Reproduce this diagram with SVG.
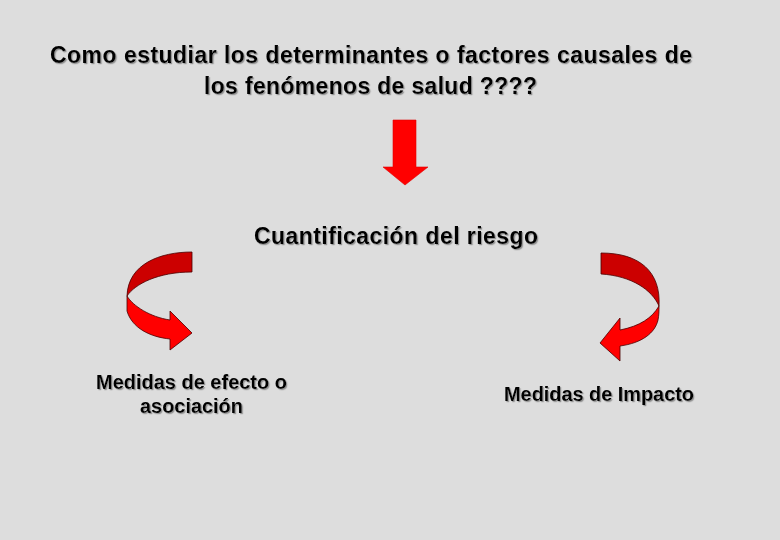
<svg xmlns="http://www.w3.org/2000/svg" width="780" height="540" viewBox="0 0 780 540">
<defs>
<filter id="sh" x="-5%" y="-20%" width="110%" height="140%">
<feDropShadow dx="1.2" dy="1.2" stdDeviation="0.4" flood-color="#8c8c8c" flood-opacity="0.9"/>
</filter>
<style>
.t{font-family:"Liberation Sans",Arial,sans-serif;font-weight:bold;fill:#000;}
.big{font-size:23px;}
.sm{font-size:20px;}
.dark{fill:#CC0000;stroke:#4a0000;stroke-width:0.8;}
.bright{fill:#FF0000;stroke:#4a0000;stroke-width:0.8;}
</style>
</defs>
<rect width="780" height="540" fill="#DDDDDD"/>
<g id="title" filter="url(#sh)">
<text class="t big" x="50" y="63" textLength="642" lengthAdjust="spacing">Como estudiar los determinantes o factores causales de</text>
<text class="t big" x="204" y="94" textLength="333" lengthAdjust="spacing">los fenómenos de salud ????</text>
</g>
<g id="down-arrow">
<path d="M393,120 L416,120 L416,167 L428,167 L405,185 L383,167 L393,167 Z" fill="#FF0000" stroke="#e00000" stroke-width="0.6"/>
</g>
<g id="riesgo" filter="url(#sh)">
<text class="t big" x="254" y="244" textLength="284" lengthAdjust="spacing">Cuantificación del riesgo</text>
</g>
<g id="left-arrow">
<path class="bright" d="M127,296 C133,306 150,317 170,320 L170,311 L192,333 L170,350 L170,339 C150,337 132,328 127,311 Z"/>
<path class="dark" d="M192,252 L192,272 C158,272 135,284 127,296 C128,264 160,252 192,252 Z"/>
</g>
<g id="right-arrow">
<path class="bright" d="M659,306 C659,311 659,315 658,320 C655,333 642,343 620,346 L620,361 L600,343 L620,318 L620,330 C640,326 652,318 659,306 Z"/>
<path class="dark" d="M601,253 L601,274 C632,276 652,290 659,306 C661,272 640,253 601,253 Z"/>
</g>
<g id="efecto" filter="url(#sh)">
<text class="t sm" x="96" y="389" textLength="191" lengthAdjust="spacing">Medidas de efecto o</text>
<text class="t sm" x="140" y="413" textLength="103" lengthAdjust="spacing">asociación</text>
</g>
<g id="impacto" filter="url(#sh)">
<text class="t sm" x="504" y="401" textLength="190" lengthAdjust="spacing">Medidas de Impacto</text>
</g>
</svg>
